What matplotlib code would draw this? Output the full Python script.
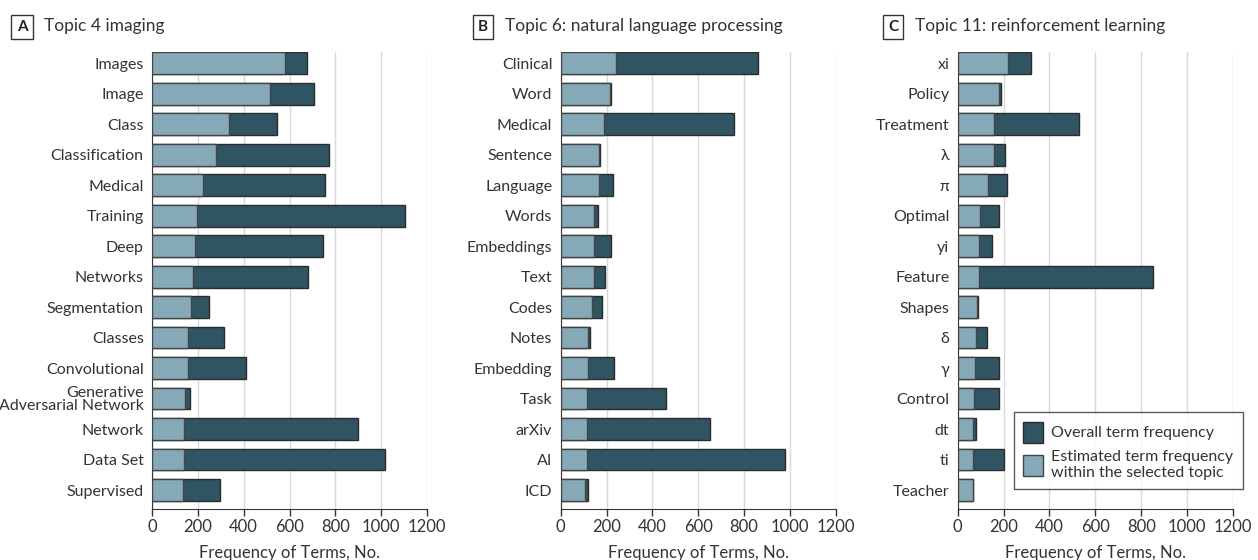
import matplotlib
matplotlib.use('Agg')
import matplotlib.pyplot as plt
import numpy as np

plt.rcParams['font.family'] = ['Lato', 'DejaVu Sans']

# Panel A: topic 4 imaging
terms_a = ["Images", "Image", "Class", "Classification", "Medical", "Training", "Deep",
           "Networks", "Segmentation", "Classes", "Convolutional",
           "Generative\nAdversarial Network", "Network", "Data Set", "Supervised"]
overall_a = [678, 708, 547, 771, 756, 1105, 748, 682, 250, 313, 412, 165, 900, 1018, 297]
topic_a = [582, 515, 336, 281, 221, 198, 186, 178, 170, 159, 157, 146, 141, 141, 135]

# Panel B: topic 6 natural language processing
terms_b = ["Clinical", "Word", "Medical", "Sentence", "Language", "Words", "Embeddings",
           "Text", "Codes", "Notes", "Embedding", "Task", "arXiv", "AI", "ICD"]
overall_b = [860, 218, 755, 170, 230, 161, 221, 195, 182, 129, 234, 461, 650, 977, 120]
topic_b = [243, 215, 188, 167, 167, 147, 147, 144, 135, 119, 119, 116, 116, 115, 107]

# Panel C: topic 11 reinforcement learning
terms_c = ["xi", "Policy", "Treatment", "λ", "π", "Optimal", "yi", "Feature", "Shapes",
           "δ", "γ", "Control", "dt", "ti", "Teacher"]
overall_c = [320, 190, 530, 205, 216, 181, 148, 850, 87, 129, 180, 180, 78, 200, 66]
topic_c = [219, 179, 158, 157, 131, 96, 92, 93, 84, 81, 75, 72, 68, 68, 65]

letters = ["A", "B", "C"]
titles = ["Topic 4 imaging", "Topic 6: natural language processing",
          "Topic 11: reinforcement learning"]
x_ticks = [0, 200, 400, 600, 800, 1000, 1200]

dark = "#2f5563"
light = "#86a9b8"
edge = "#2b2b2b"
text_col = "#333333"

W, H = 1258, 560
fig = plt.figure(figsize=(W / 100, H / 100), dpi=100, facecolor="white")

ax_left = [152, 560.7, 957.7]   # pixel x of value 0
ax_right = [427, 835.7, 1233]   # pixel x of value 1200
box_cx = [22, 483, 893]         # pixel x of the letter boxes
top_px, bot_px = 52, 509.3

panels = [(terms_a, overall_a, topic_a), (terms_b, overall_b, topic_b),
          (terms_c, overall_c, topic_c)]

for k, (terms, overall, topic) in enumerate(panels):
    l = ax_left[k] / W
    w = (ax_right[k] - ax_left[k]) / W
    b = 1 - bot_px / H
    h = (bot_px - top_px) / H
    ax = fig.add_axes([l, b, w, h])
    y = np.arange(len(terms))
    ax.barh(y, overall, height=0.71, color=dark, edgecolor=edge, linewidth=1, zorder=2,
            label="Overall term frequency")
    ax.barh(y, topic, height=0.71, color=light, edgecolor="#444444", linewidth=1, zorder=3,
            label="Estimated term frequency\nwithin the selected topic")
    ax.set_ylim(len(terms) - 1 + 0.63, -0.37)
    ax.set_xlim(0, 1200)
    ax.set_xticks(x_ticks)
    ax.set_xticklabels([str(t) for t in x_ticks], fontsize=12, color=text_col)
    ax.set_yticks(y)
    ax.set_yticklabels(terms, fontsize=11.5, color=text_col, linespacing=0.9)
    ax.tick_params(axis='y', length=0, pad=6)
    ax.tick_params(axis='x', length=5, width=1, color="#333333", direction='out', pad=2)
    for s in ["top", "right"]:
        ax.spines[s].set_visible(False)
    ax.spines["left"].set_color("#333333")
    ax.spines["bottom"].set_color("#333333")
    ax.xaxis.grid(True, color="#d9d9d9", linewidth=1, zorder=0)
    ax.set_axisbelow(True)
    ax.set_xlabel("Frequency of Terms, No.", fontsize=12, color=text_col, labelpad=7)

    # panel letter box and title
    fig.text(box_cx[k] / W, 1 - 27 / H, letters[k], fontsize=11, fontweight='bold',
             color="#222222", ha='center', va='center',
             bbox=dict(boxstyle='square,pad=0.35', facecolor='white', edgecolor='#333333',
                       linewidth=1))
    fig.text((box_cx[k] + 22) / W, 1 - 26 / H, titles[k], fontsize=12.5, color=text_col,
             ha='left', va='center')

    if k == 2:
        handles, labels = ax.get_legend_handles_labels()
        leg = ax.legend(handles, labels, loc='lower right', bbox_to_anchor=(1.036, 0.044),
                        borderaxespad=0, fontsize=11.5, frameon=True, fancybox=False,
                        edgecolor="#333333", handlelength=1.25, handleheight=1.6,
                        borderpad=0.6, labelspacing=0.5, handletextpad=0.5)
        leg.get_frame().set_linewidth(1)
        for t in leg.get_texts():
            t.set_color(text_col)
            t.set_linespacing(1.1)

fig.savefig("out.png", dpi=100, facecolor="white")
